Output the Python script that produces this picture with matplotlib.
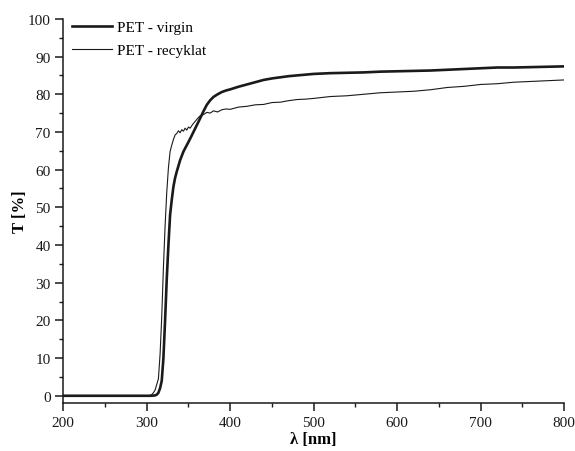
"""UV-VIS transmittance of virgin vs recycled PET."""

import matplotlib.pyplot as plt
from matplotlib.ticker import MultipleLocator

plt.rcParams["font.family"] = ["Liberation Serif", "DejaVu Serif"]

# wavelength [nm] and transmittance [%]
wl_virgin = [200, 250, 300, 305, 308, 310, 312, 314, 316, 318, 320, 322, 324, 326,
             328, 330, 332, 334, 336, 338, 340, 344, 348, 352, 356, 360, 364, 368,
             372, 376, 380, 385, 390, 395, 400, 410, 420, 430, 440, 450, 460, 470,
             480, 490, 500, 520, 540, 560, 580, 600, 620, 640, 660, 680, 700, 720,
             740, 760, 780, 800]
t_virgin = [0, 0, 0, 0, 0.05, 0.1, 0.3, 0.8, 2, 4, 10, 20, 31, 40,
            48, 52, 55.5, 57.8, 59.5, 61, 62.5, 64.8, 66.5, 68.2, 70, 71.8, 73.6, 75.5,
            77.2, 78.4, 79.3, 80, 80.6, 81, 81.3, 82, 82.6, 83.2, 83.8, 84.2, 84.5, 84.8,
            85, 85.2, 85.4, 85.6, 85.7, 85.8, 86, 86.1, 86.2, 86.3, 86.5, 86.7, 86.9, 87.1,
            87.1, 87.2, 87.3, 87.4]

wl_recyklat = [200, 250, 300, 304, 306, 308, 310, 312, 314, 316, 318, 320, 322, 324,
               326, 328, 330, 332, 334, 336, 338, 340, 342, 344, 346, 348, 350, 352,
               355, 358, 361, 364, 368, 372, 376, 380, 385, 390, 395, 400, 410, 420,
               430, 440, 450, 460, 470, 480, 490, 500, 520, 540, 560, 580, 600, 620,
               640, 660, 680, 700, 720, 740, 760, 780, 800]
t_recyklat = [0, 0, 0, 0.1, 0.3, 0.8, 1.5, 3, 4.5, 11, 21, 34, 45, 54,
              60.5, 64.8, 66.5, 68, 69.2, 69.6, 70.3, 69.8, 70.6, 70.2, 71, 70.5, 71.3, 71,
              72, 72.8, 73.6, 74.3, 74.6, 75.2, 75, 75.6, 75.3, 75.9, 76.1, 76, 76.6, 76.8,
              77.2, 77.3, 77.8, 77.9, 78.3, 78.6, 78.7, 78.9, 79.4, 79.6, 80, 80.4, 80.6, 80.8,
              81.2, 81.8, 82.1, 82.6, 82.8, 83.2, 83.4, 83.6, 83.8]

fig = plt.figure(figsize=(5.75, 4.52), dpi=100)
ax = fig.add_axes([0.110, 0.106, 0.871, 0.850])

ax.plot(wl_virgin, t_virgin, color="#1a1a1a", lw=1.9, label="PET - virgin")
ax.plot(wl_recyklat, t_recyklat, color="#1a1a1a", lw=0.8, label="PET - recyklat")

ax.set_xlim(200, 800)
ax.set_ylim(-1.94, 100)
ax.xaxis.set_major_locator(MultipleLocator(100))
ax.xaxis.set_minor_locator(MultipleLocator(50))
ax.yaxis.set_major_locator(MultipleLocator(10))
ax.yaxis.set_minor_locator(MultipleLocator(5))

for side in ("top", "right"):
    ax.spines[side].set_visible(False)
for side in ("left", "bottom"):
    ax.spines[side].set_linewidth(1.1)
    ax.spines[side].set_color("#1a1a1a")

ax.tick_params(which="major", length=6, width=1.1, labelsize=11, colors="#1a1a1a", pad=3)
ax.tick_params(which="minor", length=3, width=1.0, colors="#1a1a1a")

ax.set_xlabel("λ [nm]", fontsize=12, fontweight="bold", labelpad=2)
ax.set_ylabel("T [%]", fontsize=12, fontweight="bold", labelpad=0)

ax.legend(loc="upper left", bbox_to_anchor=(0.0, 1.02), frameon=False, fontsize=11,
          handlelength=2.6, handletextpad=0.35, labelspacing=0.6, borderaxespad=0.2)

fig.savefig("out.png", dpi=100)
